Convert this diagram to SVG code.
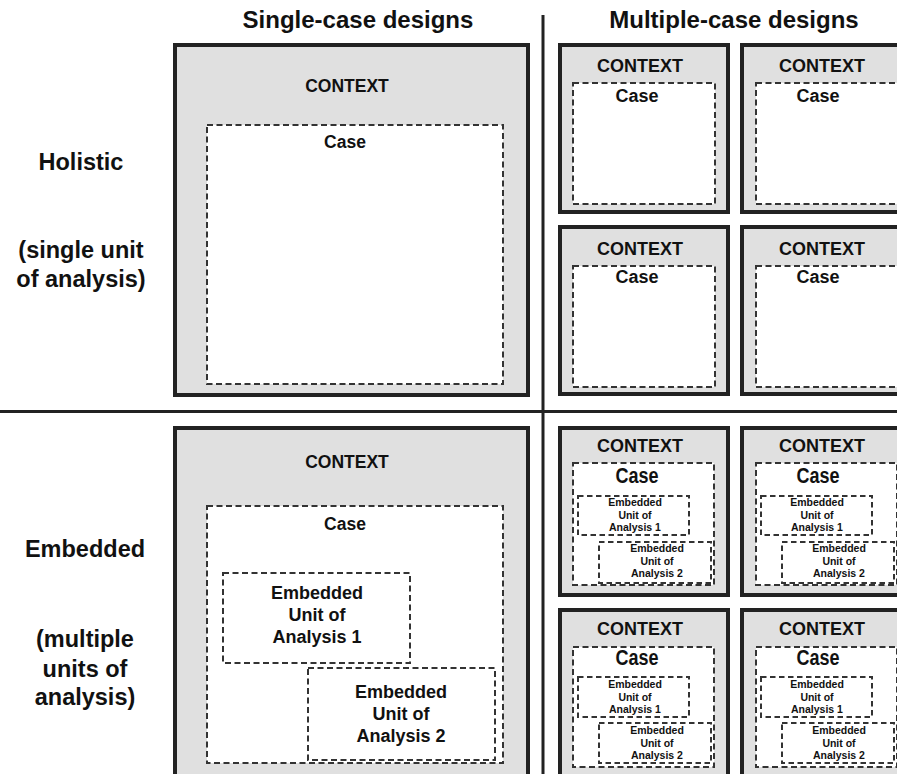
<svg xmlns="http://www.w3.org/2000/svg" width="897" height="774" viewBox="0 0 897 774">
  <style>
    text { font-family: "Liberation Sans", Arial, sans-serif; font-weight: bold; fill: #111; text-anchor: middle; }
    .title { font-size: 24px; }
    .side { font-size: 23.5px; }
    .ctx { fill: #e0e0e0; stroke: #222; stroke-width: 4; }
    .case { fill: #fff; stroke: #333; stroke-width: 2; stroke-dasharray: 6 3.5; }
    .unit { fill: #fff; stroke: #333; stroke-width: 2; stroke-dasharray: 6 3.5; }
    .unit-s { fill: #fff; stroke: #333; stroke-width: 2; stroke-dasharray: 5.5 3.5; }
    .lbl18 { font-size: 18px; }
    .lbl17 { font-size: 17.5px; }
    .emb { font-size: 18px; }
    .emb-s { font-size: 10.5px; }
    .rule { stroke: #222; stroke-width: 3; fill: none; }
  </style>

  <!-- column and row headings -->
  <g id="headings">
    <text class="title" x="358" y="28">Single-case designs</text>
    <text class="title" x="734" y="28">Multiple-case designs</text>
    <text class="side" x="81" y="170">Holistic</text>
    <text class="side" x="81" y="258">(single unit</text>
    <text class="side" x="81" y="287">of analysis)</text>
    <text class="side" x="85" y="557">Embedded</text>
    <text class="side" x="85" y="647">(multiple</text>
    <text class="side" x="85" y="677">units of</text>
    <text class="side" x="85" y="705">analysis)</text>
  </g>

  <!-- grid rules -->
  <g id="rules">
    <line class="rule" x1="543" y1="15" x2="543" y2="774"/>
    <line class="rule" x1="0" y1="411.5" x2="897" y2="411.5"/>
  </g>

  <!-- single-case holistic -->
  <g id="single-holistic">
    <rect class="ctx" x="175" y="45" width="353" height="350"/>
    <text class="lbl17" x="347" y="92">CONTEXT</text>
    <rect class="case" x="207" y="125" width="296" height="259"/>
    <text class="lbl17" x="345" y="148">Case</text>
  </g>

  <!-- single-case embedded -->
  <g id="single-embedded">
    <rect class="ctx" x="175" y="428" width="353" height="370"/>
    <text class="lbl17" x="347" y="468">CONTEXT</text>
    <rect class="case" x="207" y="506" width="296" height="257"/>
    <text class="lbl17" x="345" y="530">Case</text>
    <rect class="unit" x="223" y="573" width="187" height="90"/>
    <text class="emb" x="317" y="599">Embedded</text>
    <text class="emb" x="317" y="621">Unit of</text>
    <text class="emb" x="317" y="643">Analysis 1</text>
    <rect class="unit" x="308" y="668" width="187" height="92"/>
    <text class="emb" x="401" y="698">Embedded</text>
    <text class="emb" x="401" y="720">Unit of</text>
    <text class="emb" x="401" y="742">Analysis 2</text>
  </g>

  <!-- multiple-case holistic -->
  <g id="multi-holistic-1" transform="translate(560,45)">
    <rect class="ctx" x="0" y="0" width="168" height="167"/>
    <text class="lbl18" x="80" y="27">CONTEXT</text>
    <rect class="case" x="13" y="38" width="142" height="121"/>
    <text class="lbl18" x="77" y="57">Case</text>
  </g>
  <g id="multi-holistic-2" transform="translate(742,45)">
    <rect class="ctx" x="0" y="0" width="168" height="167"/>
    <text class="lbl18" x="80" y="27">CONTEXT</text>
    <rect class="case" x="14" y="38" width="142" height="121"/>
    <text class="lbl18" x="76" y="57">Case</text>
  </g>
  <g id="multi-holistic-3" transform="translate(560,227)">
    <rect class="ctx" x="0" y="0" width="168" height="167"/>
    <text class="lbl18" x="80" y="28">CONTEXT</text>
    <rect class="case" x="13" y="39" width="142" height="121"/>
    <text class="lbl18" x="77" y="56">Case</text>
  </g>
  <g id="multi-holistic-4" transform="translate(742,227)">
    <rect class="ctx" x="0" y="0" width="168" height="167"/>
    <text class="lbl18" x="80" y="28">CONTEXT</text>
    <rect class="case" x="14" y="39" width="142" height="121"/>
    <text class="lbl18" x="76" y="56">Case</text>
  </g>

  <!-- multiple-case embedded -->
  <g id="multi-embedded-1" transform="translate(560,428)">
    <rect class="ctx" x="0" y="0" width="168" height="167"/>
    <text class="lbl18" x="80" y="24">CONTEXT</text>
    <rect class="case" x="13" y="35" width="141" height="122"/>
    <text class="lbl18" transform="translate(77,55) scale(1,1.18)">Case</text>
    <rect class="unit-s" x="18" y="68" width="111" height="39"/>
    <text class="emb-s" x="75" y="78">Embedded</text>
    <text class="emb-s" x="75" y="91">Unit of</text>
    <text class="emb-s" x="75" y="103">Analysis 1</text>
    <rect class="unit-s" x="39" y="114" width="112" height="41"/>
    <text class="emb-s" x="97" y="124">Embedded</text>
    <text class="emb-s" x="97" y="137">Unit of</text>
    <text class="emb-s" x="97" y="149">Analysis 2</text>
  </g>
  <g id="multi-embedded-2" transform="translate(742,428)">
    <rect class="ctx" x="0" y="0" width="168" height="167"/>
    <text class="lbl18" x="80" y="24">CONTEXT</text>
    <rect class="case" x="14" y="35" width="141" height="122"/>
    <text class="lbl18" transform="translate(76,55) scale(1,1.18)">Case</text>
    <rect class="unit-s" x="19" y="68" width="111" height="39"/>
    <text class="emb-s" x="75" y="78">Embedded</text>
    <text class="emb-s" x="75" y="91">Unit of</text>
    <text class="emb-s" x="75" y="103">Analysis 1</text>
    <rect class="unit-s" x="40" y="114" width="112" height="41"/>
    <text class="emb-s" x="97" y="124">Embedded</text>
    <text class="emb-s" x="97" y="137">Unit of</text>
    <text class="emb-s" x="97" y="149">Analysis 2</text>
  </g>
  <g id="multi-embedded-3" transform="translate(560,610)">
    <rect class="ctx" x="0" y="0" width="168" height="190"/>
    <text class="lbl18" x="80" y="25">CONTEXT</text>
    <rect class="case" x="13" y="37" width="141" height="120"/>
    <text class="lbl18" transform="translate(77,55) scale(1,1.18)">Case</text>
    <rect class="unit-s" x="18" y="67" width="111" height="40"/>
    <text class="emb-s" x="75" y="78">Embedded</text>
    <text class="emb-s" x="75" y="91">Unit of</text>
    <text class="emb-s" x="75" y="103">Analysis 1</text>
    <rect class="unit-s" x="39" y="113" width="112" height="40"/>
    <text class="emb-s" x="97" y="124">Embedded</text>
    <text class="emb-s" x="97" y="137">Unit of</text>
    <text class="emb-s" x="97" y="149">Analysis 2</text>
  </g>
  <g id="multi-embedded-4" transform="translate(742,610)">
    <rect class="ctx" x="0" y="0" width="168" height="190"/>
    <text class="lbl18" x="80" y="25">CONTEXT</text>
    <rect class="case" x="14" y="37" width="141" height="120"/>
    <text class="lbl18" transform="translate(76,55) scale(1,1.18)">Case</text>
    <rect class="unit-s" x="19" y="67" width="111" height="40"/>
    <text class="emb-s" x="75" y="78">Embedded</text>
    <text class="emb-s" x="75" y="91">Unit of</text>
    <text class="emb-s" x="75" y="103">Analysis 1</text>
    <rect class="unit-s" x="40" y="113" width="112" height="40"/>
    <text class="emb-s" x="97" y="124">Embedded</text>
    <text class="emb-s" x="97" y="137">Unit of</text>
    <text class="emb-s" x="97" y="149">Analysis 2</text>
  </g>
</svg>
